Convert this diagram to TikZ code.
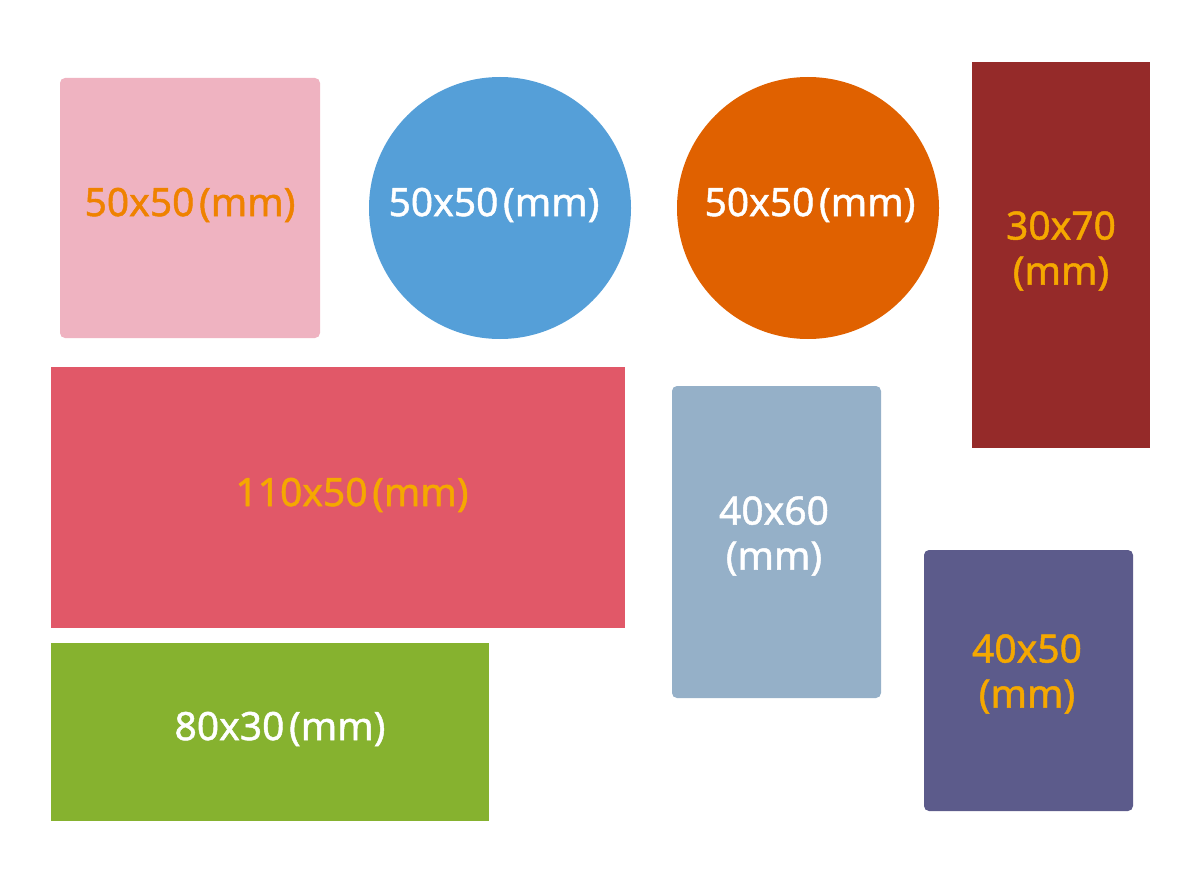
\documentclass[tikz,border=0pt]{standalone}
\usepackage{fontspec}
\setmainfont{Noto Sans}
\newfontfamily\lblfont{Noto Sans}[FakeBold=1.2]
\definecolor{pinkbox}{HTML}{EFB3C1}
\definecolor{bluecirc}{HTML}{559FD8}
\definecolor{orangecirc}{HTML}{E06100}
\definecolor{darkred}{HTML}{952A29}
\definecolor{redbox}{HTML}{E15868}
\definecolor{greybox}{HTML}{95B0C8}
\definecolor{purplebox}{HTML}{5C5B8B}
\definecolor{greenbox}{HTML}{86B22F}
\definecolor{orangetxt}{HTML}{EF8200}
\definecolor{goldtxt}{HTML}{F5A800}
\tikzset{
  lbltext/.style={font=\lblfont\fontsize{39}{45}\selectfont, inner sep=0pt, align=center},
  shape box/.style={rectangle, inner sep=0pt, draw=none},
  round box/.style={shape box, rounded corners=5pt},
  disc/.style={circle, inner sep=0pt, minimum size=262pt, draw=none},
}
\newcommand{\lbl}[2]{#1\kern0.12em(#2)}
\begin{document}
\begin{tikzpicture}[x=1pt,y=-1pt]
\useasboundingbox (0,0) rectangle (1200,883);
% pink rounded square
\node[round box, fill=pinkbox, minimum width=260pt, minimum height=260pt]
  (pink) at (190,208) {};
\node[lbltext, text=orangetxt] (pinklbl) at (190,205) {\lbl{50x50}{mm}};
% blue circle
\node[disc, fill=bluecirc] (blue) at (500,208) {};
\node[lbltext, text=white] (bluelbl) at (494,205) {\lbl{50x50}{mm}};
% orange circle
\node[disc, fill=orangecirc] (orange) at (808,208) {};
\node[lbltext, text=white] (orangelbl) at (810,205) {\lbl{50x50}{mm}};
% dark red tall rectangle
\node[shape box, fill=darkred, minimum width=178pt, minimum height=386pt]
  (tall) at (1061,255) {};
\node[lbltext, text=goldtxt] (talllbl) at (1061,251) {30x70\\(mm)};
% red wide rectangle
\node[shape box, fill=redbox, minimum width=574pt, minimum height=261pt]
  (wide) at (338,497.5) {};
\node[lbltext, text=goldtxt] (widelbl) at (352,495) {\lbl{110x50}{mm}};
% grey-blue rounded rectangle
\node[round box, fill=greybox, minimum width=209pt, minimum height=312pt]
  (grey) at (776.5,542) {};
\node[lbltext, text=white] (greylbl) at (774,536) {40x60\\(mm)};
% purple rounded rectangle
\node[round box, fill=purplebox, minimum width=209pt, minimum height=261pt]
  (purple) at (1028.5,680.5) {};
\node[lbltext, text=goldtxt] (purplelbl) at (1027,674) {40x50\\(mm)};
% green rectangle
\node[shape box, fill=greenbox, minimum width=438pt, minimum height=178pt]
  (green) at (270,732) {};
\node[lbltext, text=white] (greenlbl) at (280,729) {\lbl{80x30}{mm}};
\end{tikzpicture}
\end{document}
